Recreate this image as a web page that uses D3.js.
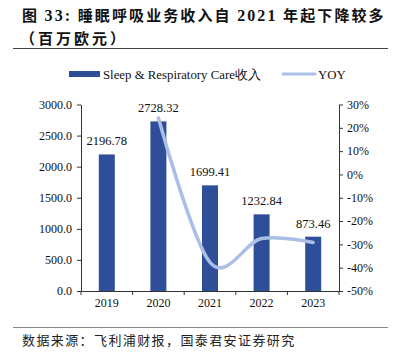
<!DOCTYPE html>
<html>
<head>
<meta charset="utf-8">
<script src="https://cdn.jsdelivr.net/npm/d3@7"></script>
<style>
  body { margin: 0; background: #fff; }
  svg { display: block; }
</style>
</head>
<body>
<div id="chart"></div>
<script>
const years = ["2019", "2020", "2021", "2022", "2023"];
const revenue = [2196.78, 2728.32, 1699.41, 1232.84, 873.46];
const yoyYears = ["2020", "2021", "2022", "2023"];
const yoy = [24.2, -37.7, -27.5, -29.2];
const leftTicks = [0, 500, 1000, 1500, 2000, 2500, 3000];
const rightTicks = [-50, -40, -30, -20, -10, 0, 10, 20, 30];

const W = 395, H = 363;
const serif = "'Liberation Serif', 'Times New Roman', serif";
const cjk = "'Noto Sans CJK SC', sans-serif";

let svg = d3.select("#chart").append("svg")
    .attr("width", W)
    .attr("height", H);

// title, numbers in serif like the original
let t1 = svg.append("text")
   .attr("x", 22).attr("y", 21)
   .attr("font-family", cjk).attr("font-weight", "bold")
   .attr("font-size", 15).attr("fill", "#111")
   .attr("letter-spacing", 2.1);
t1.append("tspan").text("图 ");
t1.append("tspan").attr("font-family", serif).attr("font-size", 16).text("33:");
t1.append("tspan").text("  睡眠呼吸业务收入自 ");
t1.append("tspan").attr("font-family", serif).attr("font-size", 16).text("2021");
t1.append("tspan").text(" 年起下降较多");

svg.append("text")
   .attr("x", 20).attr("y", 44)
   .attr("font-family", cjk).attr("font-weight", "bold")
   .attr("font-size", 15).attr("fill", "#111")
   .attr("letter-spacing", 3)
   .text("（百万欧元）");

svg.append("line").attr("x1", 13).attr("x2", 388).attr("y1", 48.5).attr("y2", 48.5)
   .attr("stroke", "#444").attr("stroke-width", 1);
svg.append("line").attr("x1", 13).attr("x2", 388).attr("y1", 327.5).attr("y2", 327.5)
   .attr("stroke", "#888").attr("stroke-width", 1);

svg.append("text")
   .attr("x", 22).attr("y", 345)
   .attr("font-family", cjk).attr("font-size", 13).attr("fill", "#222")
   .attr("letter-spacing", 1.4)
   .text("数据来源：飞利浦财报，国泰君安证券研究");

// legend
let lg = svg.append("g");
lg.append("rect").attr("x", 69).attr("y", 71).attr("width", 31).attr("height", 6).attr("fill", "#2E4E99");
lg.append("text").attr("x", 103).attr("y", 79)
  .attr("font-family", serif).attr("font-size", 12.8).attr("fill", "#111")
  .text("Sleep & Respiratory Care收入");
lg.append("line").attr("x1", 283).attr("x2", 315).attr("y1", 74).attr("y2", 74)
  .attr("stroke", "#A9BFE6").attr("stroke-width", 3).attr("stroke-linecap", "round");
lg.append("text").attr("x", 318).attr("y", 79)
  .attr("font-family", serif).attr("font-size", 12.8).attr("fill", "#111")
  .text("YOY");

// chart area
const plotL = 81, plotR = 339, plotT = 104.5, plotB = 291;

let x = d3.scaleBand().domain(years).range([plotL, plotR]).paddingInner(0.69).paddingOuter(0.345);
let x0 = d3.scaleBand().domain(years).range([plotL, plotR]);
let y = d3.scaleLinear().domain([0, 3000]).range([plotB, plotT]);
let y2 = d3.scaleLinear().domain([-50, 30]).range([plotB, plotT]);

svg.selectAll("rect.bar")
   .data(revenue)
   .join("rect")
   .attr("class", "bar")
   .attr("x", (d, i) => x(years[i]))
   .attr("width", x.bandwidth())
   .attr("y", d => y(d))
   .attr("height", d => plotB - y(d))
   .attr("fill", "#2E4E99");

svg.selectAll("text.val")
   .data(revenue)
   .join("text")
   .attr("class", "val")
   .attr("x", (d, i) => x(years[i]) + x.bandwidth() / 2)
   .attr("y", d => y(d) - 9)
   .attr("text-anchor", "middle")
   .attr("font-family", serif).attr("font-size", 12.5).attr("fill", "#111")
   .text(d => d.toFixed(2));

// left axis
let axL = svg.append("g")
   .attr("transform", `translate(${plotL},0)`)
   .call(d3.axisLeft(y).tickValues(leftTicks).tickFormat(d => d.toFixed(1)).tickSize(4).tickSizeOuter(0));
// right axis
let axR = svg.append("g")
   .attr("transform", `translate(${plotR},0)`)
   .call(d3.axisRight(y2).tickValues(rightTicks).tickFormat(d => d + "%").tickSize(4).tickSizeOuter(0));
// bottom axis
let axB = svg.append("g")
   .attr("transform", `translate(0,${plotB})`)
   .call(d3.axisBottom(x0).tickSize(0).tickSizeOuter(0));
svg.append("g").selectAll("line")
   .data(d3.range(years.length + 1))
   .join("line")
   .attr("x1", i => plotL + i * x0.bandwidth()).attr("x2", i => plotL + i * x0.bandwidth())
   .attr("y1", plotB).attr("y2", plotB + 4)
   .attr("stroke", "#333");

[axL, axR, axB].forEach(a => {
  a.selectAll("path, line").attr("stroke", "#333");
  a.selectAll("text").attr("font-family", serif).attr("font-size", 12).attr("fill", "#111");
});
axL.selectAll("text").attr("x", -9);
axR.selectAll("text").attr("x", 8);
axB.selectAll("text").attr("dy", "1.1em");

// YOY line
svg.append("path")
   .datum(yoy)
   .attr("fill", "none")
   .attr("stroke", "#A9BFE6")
   .attr("stroke-width", 3.5)
   .attr("stroke-linecap", "round")
   .attr("d", d3.line()
     .x((d, i) => x0(yoyYears[i]) + x0.bandwidth() / 2)
     .y(d => y2(d))
     .curve(d3.curveCardinal.tension(0)));
</script>
</body>
</html>
